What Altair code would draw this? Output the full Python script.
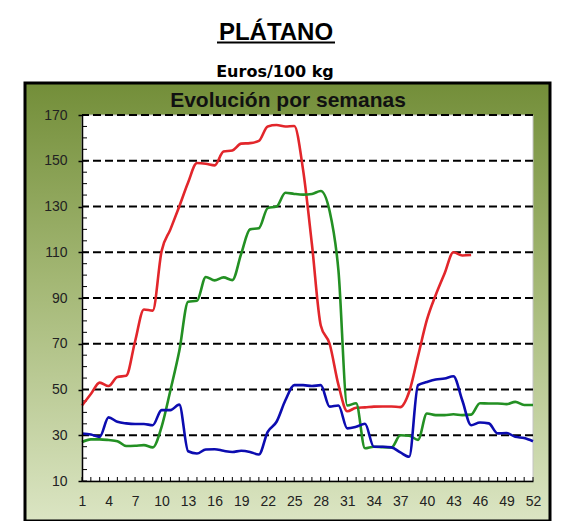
import altair as alt
import pandas as pd

# ---------------- data ----------------
weeks = list(range(1, 53))

red_values = [43, 48, 53, 51.5, 55.5, 56, 71, 85, 84.5, 110.5,
              120, 130, 140.5, 149, 148.7, 148, 154, 154.5, 157.5, 157.7,
              158.7, 165, 165.6, 165, 165.2, 146, 113.5, 78, 70, 52,
              40.5, 42, 42.2, 42.5, 42.6, 42.6, 42.3, 49, 64.6, 80.4,
              91.3, 100.7, 110, 108.6, 108.8]

green_values = [27, 28.2, 28.2, 27.9, 27.4, 25.3, 25.4, 25.7, 24.7, 33.7,
                49.7, 66.8, 88.4, 88.8, 99.2, 97.7, 99, 97.8, 109.3, 120,
                120.5, 129.3, 130, 136, 135.5, 135.2, 135.5, 136.8, 128, 102,
                43, 44, 24.3, 25, 24.8, 24.7, 30, 29.8, 28, 39.5,
                38.8, 38.8, 39.2, 38.8, 39, 44, 43.9, 43.9, 43.6, 44.6,
                43.2, 43.2]

blue_values = [30.8, 30.3, 29.3, 37.8, 35.9, 35.2, 34.9, 34.9, 34.4, 41,
               41, 43.4, 23, 22, 23.8, 23.9, 23.2, 22.7, 23.2, 22.7,
               21.6, 31.5, 35.9, 45.3, 51.9, 51.9, 51.5, 51.9, 42.5, 43,
               33, 33.7, 35, 25, 25, 24.7, 22.5, 20.6, 51.9, 53.3,
               54.4, 54.8, 55.8, 45.3, 34.4, 35.6, 35.2, 30.8, 31, 29.3,
               28.8, 27.4]

series_names = ["Serie roja", "Serie verde", "Serie azul"]
series_colors = ["#e2262b", "#239023", "#0c0cb0"]

y_major = [10, 30, 50, 70, 90, 110, 130, 150, 170]
y_grid = [30, 50, 70, 90, 110, 130, 150, 170]
y_inner_ticks = [v for v in range(10, 171, 5)]
x_labels = list(range(1, 53, 3))

title_text = "PLÁTANO"
subtitle_text = "Euros/100 kg"
inner_title_text = "Evolución por semanas"

# ---------------- tables ----------------
rows = []
for name, vals in zip(series_names, [red_values, green_values, blue_values]):
    for w, v in zip(weeks, vals):
        rows.append({"week": w, "value": v, "series": name})
lines_df = pd.DataFrame(rows)
grid_df = pd.DataFrame({"value": y_grid})
minor_df = pd.DataFrame({"value": y_inner_ticks})
xtick_df = pd.DataFrame({"week": weeks})
one = pd.DataFrame({"k": [0]})

W, H = 451, 366

xs = alt.Scale(domain=[1, 52], nice=False, zero=False)
ys = alt.Scale(domain=[10, 170], nice=False, zero=False)

xaxis = alt.Axis(values=x_labels, title=None, grid=False, ticks=False, tickSize=0,
                 labelPadding=13, labelFont="Liberation Sans", labelFontSize=14,
                 labelColor="#222222", domainColor="black", domainWidth=1.5,
                 labelFlush=False, zindex=1)
yaxis = alt.Axis(values=y_major, title=None, grid=False, tickSize=4, tickColor="black",
                 tickWidth=1.5, labelPadding=11, labelFont="Liberation Sans",
                 labelFontSize=14, labelColor="#222222", domainColor="black",
                 domainWidth=1.5, zindex=1)

gradient = {
    "gradient": "linear", "x1": 0, "y1": 0, "x2": 0, "y2": 1,
    "stops": [
        {"offset": 0, "color": "#738e39"},
        {"offset": 0.45, "color": "#a3b774"},
        {"offset": 1, "color": "#dbe5c3"},
    ],
}

frame = alt.Chart(one).mark_rect(fill=gradient, stroke="black", strokeWidth=3).encode(
    x=alt.value(-57), x2=alt.value(468), y=alt.value(-32), y2=alt.value(406)
)
plot_bg = alt.Chart(one).mark_rect(fill="white", stroke="#c4c4c4", strokeWidth=1).encode(
    x=alt.value(0), x2=alt.value(W), y=alt.value(0), y2=alt.value(H)
)

grid = alt.Chart(grid_df).mark_rule(color="black", strokeWidth=2, strokeDash=[8, 4]).encode(
    y=alt.Y("value:Q", scale=ys, axis=yaxis)
)
minor = alt.Chart(minor_df).mark_rule(color="black", strokeWidth=1).encode(
    y=alt.Y("value:Q", scale=ys, axis=yaxis), x=alt.value(0), x2=alt.value(5)
)
xticks = alt.Chart(xtick_df).mark_rule(color="black", strokeWidth=1).encode(
    x=alt.X("week:Q", scale=xs, axis=xaxis), y=alt.value(H), y2=alt.value(H - 4)
)

lines = alt.Chart(lines_df).mark_line(strokeWidth=2.6, interpolate="monotone").encode(
    x=alt.X("week:Q", scale=xs, axis=xaxis),
    y=alt.Y("value:Q", scale=ys, axis=yaxis),
    color=alt.Color("series:N", scale=alt.Scale(domain=series_names, range=series_colors),
                    legend=None),
    detail="series:N",
)

title = alt.Chart(one).mark_text(text=title_text, font="Liberation Sans", fontWeight="bold",
                                 fontSize=24, color="black", align="center",
                                 baseline="alphabetic").encode(
    x=alt.value(194), y=alt.value(-75)
)
underline = alt.Chart(one).mark_rule(color="black", strokeWidth=2).encode(
    x=alt.value(135), x2=alt.value(253), y=alt.value(-72.5)
)
subtitle = alt.Chart(one).mark_text(text=subtitle_text, font="DejaVu Sans", fontWeight="bold",
                                    fontSize=16, color="black", align="center",
                                    baseline="alphabetic").encode(
    x=alt.value(193), y=alt.value(-38.5)
)
inner_title = alt.Chart(one).mark_text(text=inner_title_text, font="Liberation Sans",
                                       fontWeight="bold", fontSize=21, color="#111111",
                                       align="center", baseline="alphabetic").encode(
    x=alt.value(206), y=alt.value(-8)
)

chart = alt.layer(
    frame, plot_bg, grid, minor, xticks, lines, title, underline, subtitle, inner_title
).properties(
    width=W, height=H,
    autosize=alt.AutoSizeParams(type="none"),
    padding={"left": 74, "top": 107, "right": 30, "bottom": 40},
    background="white",
).configure_view(stroke=None)

chart.save("out.html", embed_options={"renderer": "svg", "actions": False})
